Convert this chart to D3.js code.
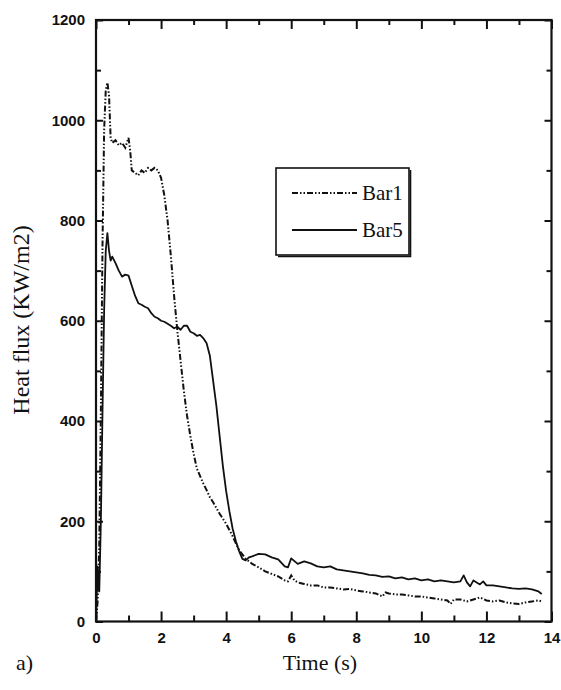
<!DOCTYPE html>
<html>
<head>
<meta charset="utf-8">
<script src="https://cdn.jsdelivr.net/npm/d3@7"></script>
<style>
  html, body { margin: 0; padding: 0; background: #fff; }
  svg { display: block; }
  .tick text { font-family: "Liberation Sans", Arial, sans-serif; font-weight: bold; font-size: 15px; fill: #111; }
  .serif { font-family: "Liberation Serif", "Times New Roman", serif; fill: #111; }
</style>
</head>
<body>
<div id="chart"></div>
<script>
var timeBar1 = [0, 0.05, 0.1, 0.15, 0.2, 0.25, 0.3, 0.35, 0.4, 0.45, 0.5, 0.6, 0.7, 0.8, 0.9, 1.0, 1.05, 1.1, 1.2, 1.3, 1.4, 1.5, 1.6, 1.7, 1.8, 1.9, 2.0,
  2.1, 2.2, 2.3, 2.4, 2.5, 2.6, 2.7, 2.8, 2.9, 3.0, 3.1, 3.2, 3.3, 3.4, 3.5, 3.6, 3.8, 4.0, 4.2, 4.4, 4.6, 4.8, 5.0, 5.2, 5.4, 5.6, 5.8, 5.9,
  6.0, 6.1, 6.2, 6.4, 6.6, 6.8, 7.0, 7.2, 7.4, 7.6, 7.8, 8.0, 8.2, 8.4, 8.6, 8.8, 8.9, 9.0, 9.2, 9.4, 9.6, 9.8, 10.0, 10.2, 10.4, 10.6,
  10.8, 10.9, 11.0, 11.2, 11.4, 11.6, 11.8, 12.0, 12.2, 12.4, 12.6, 12.8, 13.0, 13.2, 13.4, 13.6, 13.7];
var heatBar1 = [0, 40, 150, 420, 750, 980, 1060, 1075, 1050, 965, 955, 960, 950, 955, 945, 965, 940, 900, 895, 890, 900, 895, 905, 900, 905, 900, 885,
  850, 800, 730, 650, 580, 520, 460, 410, 370, 335, 305, 290, 275, 262, 248, 238, 215, 195, 170, 142, 125, 115, 108, 100, 95, 90, 82, 80,
  92, 82, 78, 75, 72, 72, 68, 68, 66, 64, 65, 62, 60, 58, 56, 50, 58, 56, 54, 54, 52, 50, 50, 48, 46, 44,
  42, 35, 44, 44, 40, 44, 48, 42, 40, 42, 38, 36, 35, 38, 40, 42, 40];

var timeBar5 = [0, 0.05, 0.1, 0.15, 0.2, 0.25, 0.3, 0.35, 0.4, 0.45, 0.5, 0.6, 0.7, 0.8, 0.9, 1.0, 1.1, 1.2, 1.3, 1.4, 1.5, 1.6, 1.7, 1.8, 1.9, 2.0,
  2.1, 2.2, 2.3, 2.4, 2.5, 2.6, 2.7, 2.8, 2.9, 3.0, 3.1, 3.2, 3.3, 3.4, 3.5, 3.6, 3.7, 3.8, 3.9, 4.0, 4.1, 4.2, 4.3, 4.4, 4.5, 4.6, 4.7, 4.8,
  5.0, 5.2, 5.4, 5.6, 5.8, 5.9, 6.0, 6.2, 6.4, 6.6, 6.8, 7.0, 7.2, 7.4, 7.6, 7.8, 8.0, 8.2, 8.4, 8.6, 8.8, 9.0, 9.2, 9.4, 9.6, 9.8,
  10.0, 10.2, 10.4, 10.6, 10.8, 11.0, 11.2, 11.3, 11.4, 11.5, 11.6, 11.8, 11.9, 12.0, 12.2, 12.4, 12.6, 12.8, 13.0, 13.2, 13.4, 13.6, 13.7];
var heatBar5 = [0, 110, 60, 200, 420, 620, 740, 775, 740, 720, 728, 715, 700, 688, 692, 690, 670, 650, 635, 632, 628, 625, 615, 608, 605, 600,
  598, 594, 590, 585, 588, 582, 590, 590, 578, 575, 570, 572, 565, 555, 530, 480, 430, 370, 310, 260, 220, 185, 160, 140, 125, 122, 128, 130,
  135, 134, 128, 124, 110, 108, 126, 115, 120, 116, 110, 108, 110, 104, 102, 100, 98, 96, 93, 92, 89, 90, 86, 88, 84, 86,
  82, 84, 80, 82, 80, 78, 80, 92, 78, 70, 82, 74, 80, 72, 72, 70, 68, 66, 65, 66, 64, 60, 55];

var seriesNames = ["Bar1", "Bar5"];
var xMajorTicks = [0, 2, 4, 6, 8, 10, 12, 14];
var xMinorTicks = [1, 3, 5, 7, 9, 11, 13];
var yMajorTicks = [0, 200, 400, 600, 800, 1000, 1200];
var yMinorTicks = [100, 300, 500, 700, 900, 1100];

var HEATCHART = (function(d3) {
    var width = 561, height = 690,
        left = 96, right = 551.5, top = 20, bottom = 621.5,
        dashBar1 = "6,2,1.5,2,1.5,2";

    var x = d3.scaleLinear().domain([0, 14]).range([left, right]);
    var y = d3.scaleLinear().domain([0, 1200]).range([bottom, top]);

    var _axes = function(svg) {
        var plotW = right - left, plotH = bottom - top;
        var fmt = function(d) { return d; };

        // bottom + top, ticks point inward
        svg.append("g").attr("transform", "translate(0," + bottom + ")")
            .call(d3.axisBottom(x).tickValues(xMajorTicks).tickSizeInner(-10).tickSizeOuter(0).tickPadding(11).tickFormat(fmt));
        svg.append("g").attr("transform", "translate(0," + bottom + ")")
            .call(d3.axisBottom(x).tickValues(xMinorTicks).tickSizeInner(-6).tickSizeOuter(0).tickFormat(""));
        svg.append("g").attr("transform", "translate(0," + top + ")")
            .call(d3.axisTop(x).tickValues(xMajorTicks).tickSizeInner(-9).tickSizeOuter(0).tickFormat(""));
        svg.append("g").attr("transform", "translate(0," + top + ")")
            .call(d3.axisTop(x).tickValues(xMinorTicks).tickSizeInner(-5).tickSizeOuter(0).tickFormat(""));

        // left + right
        svg.append("g").attr("transform", "translate(" + left + ",0)")
            .call(d3.axisLeft(y).tickValues(yMajorTicks).tickSizeInner(-7).tickSizeOuter(0).tickPadding(11).tickFormat(fmt));
        svg.append("g").attr("transform", "translate(" + left + ",0)")
            .call(d3.axisLeft(y).tickValues(yMinorTicks).tickSizeInner(-5).tickSizeOuter(0).tickFormat(""));
        svg.append("g").attr("transform", "translate(" + right + ",0)")
            .call(d3.axisRight(y).tickValues(yMajorTicks).tickSizeInner(-7).tickSizeOuter(0).tickFormat(""));
        svg.append("g").attr("transform", "translate(" + right + ",0)")
            .call(d3.axisRight(y).tickValues(yMinorTicks).tickSizeInner(-5).tickSizeOuter(0).tickFormat(""));

        svg.selectAll(".domain").remove();
        svg.selectAll(".tick line").attr("stroke", "#111").attr("stroke-width", 2);

        svg.append("rect")
            .attr("x", left).attr("y", top)
            .attr("width", plotW).attr("height", plotH)
            .attr("fill", "none").attr("stroke", "#111").attr("stroke-width", 2.2);
    };

    var _lines = function(svg) {
        var line = d3.line()
            .x(function(d) { return x(d[0]); })
            .y(function(d) { return y(d[1]); });

        var bar1 = d3.zip(timeBar1, heatBar1);
        var bar5 = d3.zip(timeBar5, heatBar5);

        svg.append("path").datum(bar5)
            .attr("d", line)
            .attr("fill", "none").attr("stroke", "#111").attr("stroke-width", 1.8)
            .attr("stroke-linejoin", "round");

        svg.append("path").datum(bar1)
            .attr("d", line)
            .attr("fill", "none").attr("stroke", "#111").attr("stroke-width", 2)
            .attr("stroke-dasharray", dashBar1);
    };

    var _legend = function(svg) {
        var lx = 276, ly = 168, lw = 133, lh = 87;
        var g = svg.append("g");

        g.append("rect").attr("x", lx).attr("y", ly).attr("width", lw).attr("height", lh)
            .attr("fill", "#fff").attr("stroke", "#111").attr("stroke-width", 1.6);
        // slight heavier edge on right/bottom
        g.append("path")
            .attr("d", "M" + (lx + lw + 1.5) + "," + (ly + 2) + "V" + (ly + lh + 1.5) + "H" + (lx + 2))
            .attr("fill", "none").attr("stroke", "#111").attr("stroke-width", 1.6);

        seriesNames.forEach(function(name, i) {
            var yy = ly + 25 + i * 37;
            g.append("line")
                .attr("x1", lx + 16).attr("x2", lx + 81).attr("y1", yy).attr("y2", yy)
                .attr("stroke", "#111").attr("stroke-width", 2)
                .attr("stroke-dasharray", i === 0 ? dashBar1 : null);
            g.append("text").attr("class", "serif")
                .attr("x", lx + 86).attr("y", yy + 7)
                .attr("font-size", "21px")
                .text(name);
        });
    };

    var _titles = function(svg) {
        svg.append("text").attr("class", "serif")
            .attr("x", 320).attr("y", 670)
            .attr("text-anchor", "middle").attr("font-size", "22px")
            .text("Time (s)");

        svg.append("text").attr("class", "serif")
            .attr("x", 16).attr("y", 670)
            .attr("font-size", "22px")
            .text("a)");

        svg.append("text").attr("class", "serif")
            .attr("transform", "translate(29,320) rotate(-90)")
            .attr("text-anchor", "middle").attr("font-size", "24px")
            .text("Heat flux (KW/m2)");
    };

    var draw = function() {
        var svg = d3.select("#chart").append("svg")
            .attr("width", width).attr("height", height);

        _axes(svg);
        _lines(svg);
        _legend(svg);
        _titles(svg);
    };

    return { draw: draw };
})(d3);

HEATCHART.draw();
</script>
</body>
</html>
